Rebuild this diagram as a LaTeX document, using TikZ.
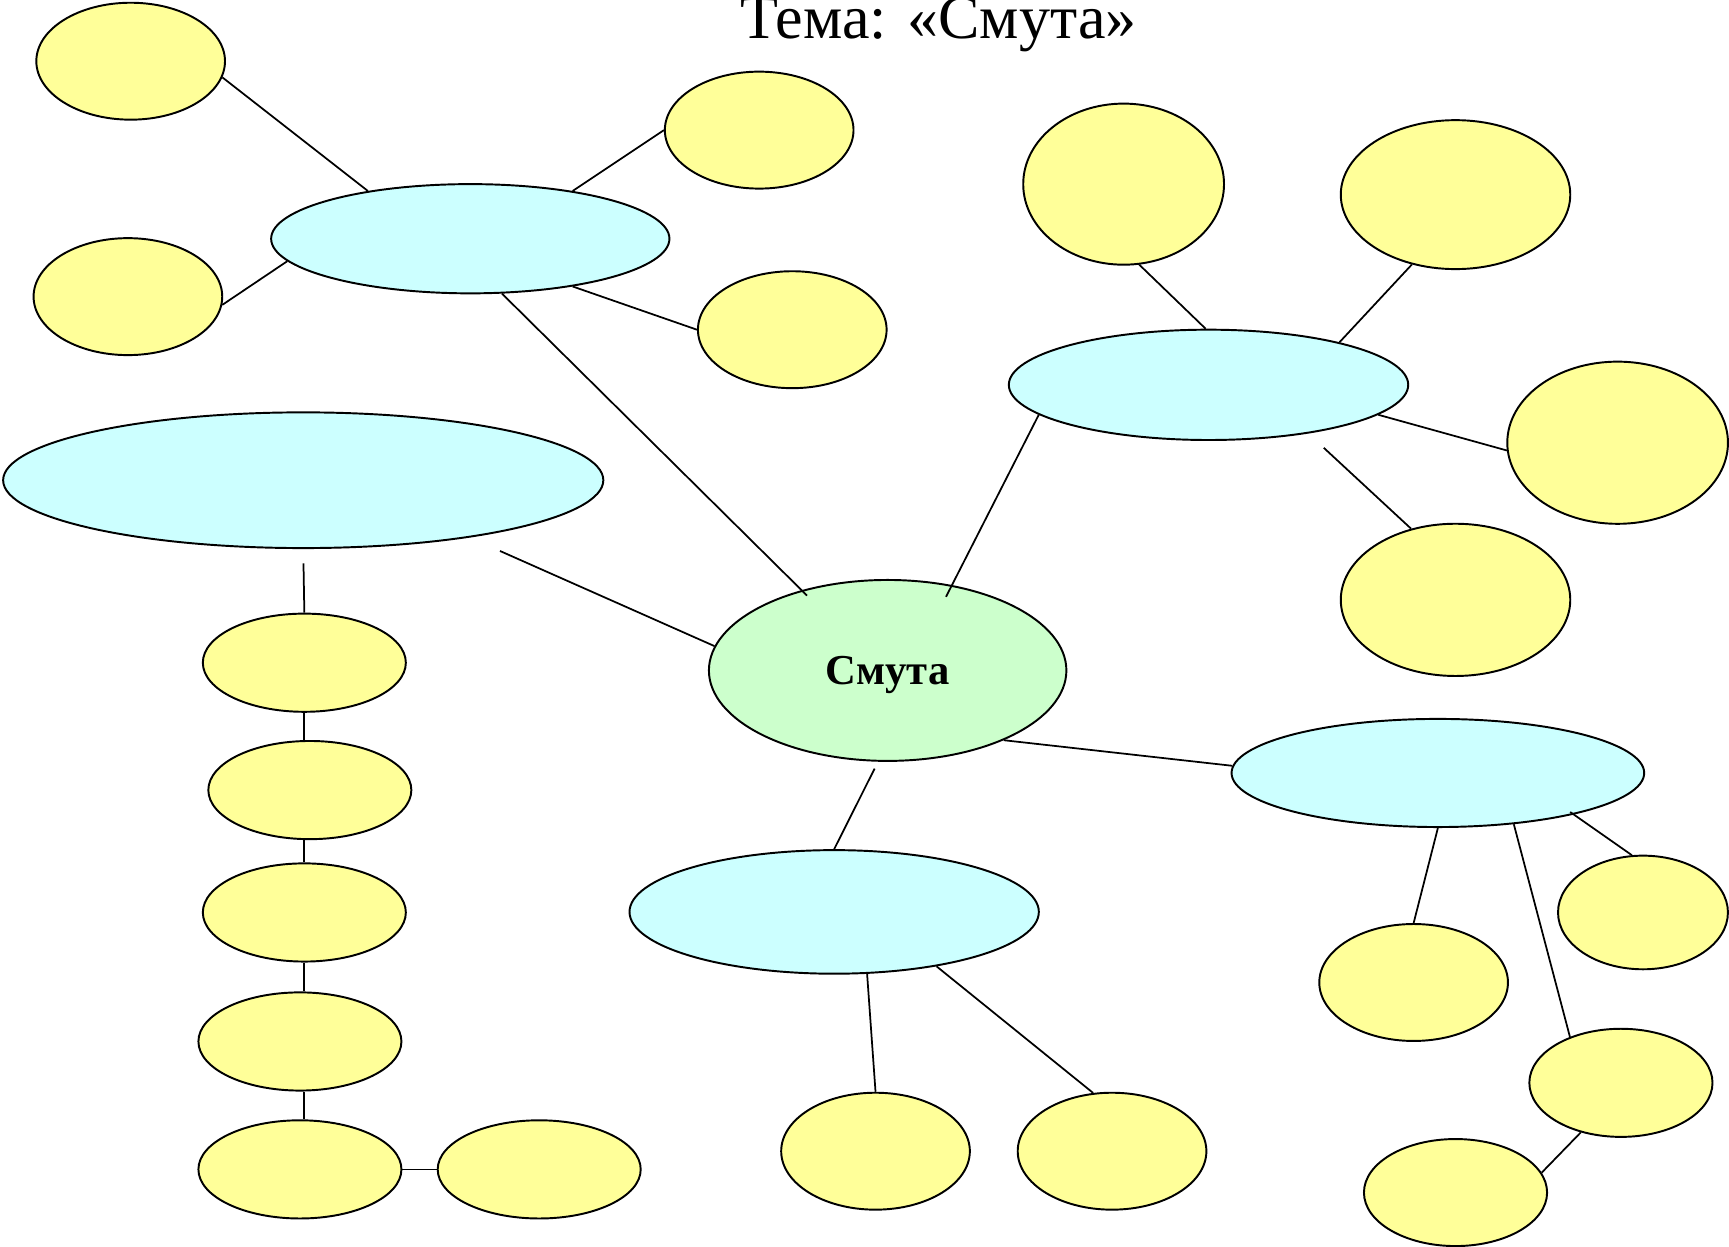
\documentclass[tikz,border=0pt]{standalone}
\usepackage{fontspec}
\setmainfont{Liberation Serif}
\usetikzlibrary{shapes.geometric}

\definecolor{ovalyellow}{HTML}{FFFF99}
\definecolor{ovalcyan}{HTML}{CCFFFF}
\definecolor{ovalgreen}{HTML}{CCFFCC}

\begin{document}
\begin{tikzpicture}[
        x=0.01cm, y=-0.01cm,
        % Style for the centre and the topic ovals
        main/.style={draw, ellipse, fill=ovalgreen, line width=0.5pt, inner sep=0pt, text depth=0pt, minimum width=3.24cm, minimum height=1.64cm, font=\fontsize{11}{13}\selectfont\bfseries},
        topic/.style={draw, ellipse, fill=ovalcyan, line width=0.5pt, inner sep=0pt},
        % Style for the empty yellow ovals
        leaf/.style={draw, ellipse, fill=ovalyellow, line width=0.5pt, inner sep=0pt},
        small/.style={leaf, minimum width=1.71cm, minimum height=1.06cm},
        column/.style={leaf, minimum width=1.84cm, minimum height=0.89cm},
        link/.style={line width=0.45pt}
    ]
    \useasboundingbox (0,0) rectangle (1568,1130);

    % Title
    \node[anchor=base, font=\fontsize{16}{18}\selectfont] (title) at (851,35) {Тема: «Смута»};

    % Centre
    \node[main] (smuta) at (805,608) {Смута};

    % Topic ovals
    \node[topic, minimum width=3.61cm, minimum height=0.99cm] (c1) at (426.5,216.5) {};
    \node[topic, minimum width=5.44cm, minimum height=1.23cm] (c2) at (275,435.5) {};
    \node[topic, minimum width=3.62cm, minimum height=1.00cm] (c3) at (1096,349) {};
    \node[topic, minimum width=3.74cm, minimum height=0.98cm] (c4) at (1304,701) {};
    \node[topic, minimum width=3.71cm, minimum height=1.12cm] (c5) at (756.5,827) {};

    % Ovals round the top left topic
    \node[small] (y1) at (118.5,55.5) {};
    \node[small] (y2) at (116,269) {};
    \node[small] (y3) at (688.5,118) {};
    \node[small] (y4) at (718.5,299) {};

    % Ovals round the top right topic
    \node[leaf, minimum width=1.82cm, minimum height=1.46cm] (y5) at (1019,167) {};
    \node[leaf, minimum width=2.08cm, minimum height=1.35cm] (y6) at (1320,176.5) {};
    \node[leaf, minimum width=2.00cm, minimum height=1.47cm] (y7) at (1467,401.5) {};
    \node[leaf, minimum width=2.08cm, minimum height=1.38cm] (y8) at (1320,544) {};

    % Column under the left topic
    \node[column] (l1) at (276,601) {};
    \node[column] (l2) at (281,716.5) {};
    \node[column] (l3) at (276,827.5) {};
    \node[column] (l4) at (272,944.5) {};
    \node[column] (l5) at (272,1060.5) {};
    \node[column] (l6) at (489,1060.5) {};

    % Ovals under the bottom topic
    \node[small] (b1) at (794,1044) {};
    \node[small] (b2) at (1008.5,1044) {};

    % Ovals under the right topic
    \node[small] (r1) at (1282,891) {};
    \node[leaf, minimum width=1.54cm, minimum height=1.03cm] (r2) at (1490,827.5) {};
    \node[leaf, minimum width=1.66cm, minimum height=0.98cm] (r3) at (1470,982) {};
    \node[leaf, minimum width=1.66cm, minimum height=0.97cm] (r4) at (1320,1081.5) {};

    % Lines of the top left topic
    \draw[link] (y1.-10) -- (c1.155);
    \draw[link] (y2.-5) -- (c1.-173);
    \draw[link] (c1.25) -- (y3.west);
    \draw[link] (c1.-25) -- (y4.west);
    \draw[link, shorten >=-2pt] (c1.-60) -- (smuta.137);

    % Lines of the left topic
    \draw[link, shorten <=0.3cm] (c2.-19) -- (smuta.172);
    \draw[link, shorten <=0.13cm] (c2.south) -- (l1.north);
    \draw[link] (l1.south) -- (l1.south |- l2.north);
    \draw[link] (l1.south |- l2.south) -- (l3.north);
    \draw[link] (l3.south) -- (l3.south |- l4.north);
    \draw[link] (l3.south |- l4.south) -- (l3.south |- l5.north);
    \draw[link] (l5.east) -- (l6.west);

    % Lines of the top right topic
    \draw[link, shorten <=-0.12cm] (smuta.53) -- (c3.-170);
    \draw[link] (y5.-79) -- (c3.93);
    \draw[link] (c3.18) -- (y6.-122);
    \draw[link] (c3.-10) -- (y7.-176);
    \draw[link, shorten <=0.19cm] (c3.-26) -- (y8.122);

    % Lines of the right topic
    \draw[link] (smuta.-31) -- (c4.178);
    \draw[link] (c4.south) -- (r1.north);
    \draw[link, shorten <=-0.04cm] (c4.-17) -- (r2.101);
    \draw[link] (c4.-34) -- (r3.138);
    \draw[link] (r3.-129) -- (r4.13);

    % Lines of the bottom topic
    \draw[link, shorten <=0.07cm] (smuta.-96) -- (c5.north);
    \draw[link] (c5.-62) -- (b1.north);
    \draw[link] (c5.-28) -- (b2.108);
\end{tikzpicture}
\end{document}
